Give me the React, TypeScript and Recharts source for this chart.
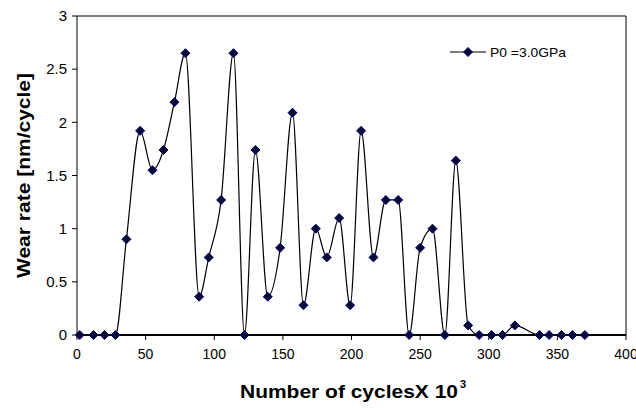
import * as React from "react"
import {
  LineChart,
  Line,
  XAxis,
  YAxis,
  ReferenceLine,
  Label,
} from "recharts"

// cycles (x 10^3) and wear rate
const cycles = [
  2, 12, 20, 28, 36, 46, 55, 63, 71, 79, 89, 96, 105, 114, 122, 130, 139, 148,
  157, 165, 174, 182, 191, 199, 207, 216, 225, 234, 242, 250, 259, 268, 276,
  285, 293, 302, 310, 319, 337, 344, 353, 361, 370,
]
const wearRate = [
  0, 0, 0, 0, 0.9, 1.92, 1.55, 1.74, 2.19, 2.65, 0.36, 0.73, 1.27, 2.65, 0,
  1.74, 0.36, 0.82, 2.09, 0.28, 1.0, 0.73, 1.1, 0.28, 1.92, 0.73, 1.27, 1.27,
  0, 0.82, 1.0, 0, 1.64, 0.09, 0, 0, 0, 0.09, 0, 0, 0, 0, 0,
]
const xTicks = [0, 50, 100, 150, 200, 250, 300, 350, 400]
const yTicks = [0, 0.5, 1, 1.5, 2, 2.5, 3]
const seriesName = "P0 =3.0GPa"

const data = cycles.map((c, i) => ({ cycles: c, wear: wearRate[i] }))

const font = "'Liberation Sans', Arial, sans-serif"

const Diamond = (props: any) => {
  const { cx, cy } = props
  if (cx == null || cy == null) return null
  const r = 4.5
  return (
    <polygon
      points={`${cx},${cy - r} ${cx + r},${cy} ${cx},${cy + r} ${cx - r},${cy}`}
      fill="#0a0a30"
      stroke="#000080"
      strokeWidth={1}
    />
  )
}

// legend drawn on top of the chart so it does not push the plot area down
const LegendBox = () => (
  <svg
    width={140}
    height={20}
    style={{ position: "absolute", left: 448, top: 42, overflow: "visible" }}
  >
    <line x1={2} y1={10} x2={38} y2={10} stroke="#000" strokeWidth={1.2} />
    <Diamond cx={20} cy={10} />
    <text
      x={42}
      y={15}
      fontFamily={font}
      fontSize={13}
      fill="#000"
      textLength={76}
      lengthAdjust="spacingAndGlyphs"
    >
      {seriesName}
    </text>
  </svg>
)

const XTitle = () => (
  <g>
    <text
      x={240}
      y={398}
      fontFamily={font}
      fontWeight="bold"
      fontSize={18}
      fill="#000"
      textLength={218}
      lengthAdjust="spacingAndGlyphs"
    >
      Number of cyclesX 10
    </text>
    <text x={460} y={388} fontFamily={font} fontWeight="bold" fontSize={11} fill="#000">
      3
    </text>
  </g>
)

const YTitle = () => (
  <text
    x={30}
    y={175.5}
    transform="rotate(-90 30 175.5)"
    textAnchor="middle"
    fontFamily={font}
    fontWeight="bold"
    fontSize={18}
    fill="#000"
    textLength={205}
    lengthAdjust="spacingAndGlyphs"
  >
    Wear rate [nm/cycle]
  </text>
)

export default function App() {
  return (
    <div style={{ position: "absolute", left: 0, top: 0, width: 636, height: 408, background: "#fff" }}>
      <LineChart
        width={636}
        height={408}
        data={data}
        margin={{ top: 16, right: 10, left: 0, bottom: 0 }}
        style={{ fontFamily: font }}
      >
        <XAxis
          dataKey="cycles"
          type="number"
          domain={[0, 400]}
          ticks={xTicks}
          height={73}
          axisLine={{ stroke: "#000", strokeWidth: 2 }}
          tickLine={{ stroke: "#000" }}
          tickSize={5}
          tickMargin={9}
          tick={{ fill: "#000", fontSize: 14, fontFamily: font }}
          interval={0}
        >
          <Label content={<XTitle />} />
        </XAxis>
        <YAxis
          type="number"
          domain={[0, 3]}
          ticks={yTicks}
          width={77}
          axisLine={{ stroke: "#000", strokeWidth: 1 }}
          tickLine={{ stroke: "#000" }}
          tickSize={5}
          tickMargin={5}
          tick={{ fill: "#000", fontSize: 15, fontFamily: font }}
          interval={0}
        >
          <Label content={<YTitle />} />
        </YAxis>
        <ReferenceLine y={3} stroke="#000" strokeWidth={1} />
        <ReferenceLine x={400} stroke="#000" strokeWidth={1} />
        <Line
          type="monotone"
          dataKey="wear"
          name={seriesName}
          stroke="#000"
          strokeWidth={1.2}
          dot={<Diamond />}
          activeDot={false}
          isAnimationActive={false}
        />
      </LineChart>
      <LegendBox />
    </div>
  )
}
